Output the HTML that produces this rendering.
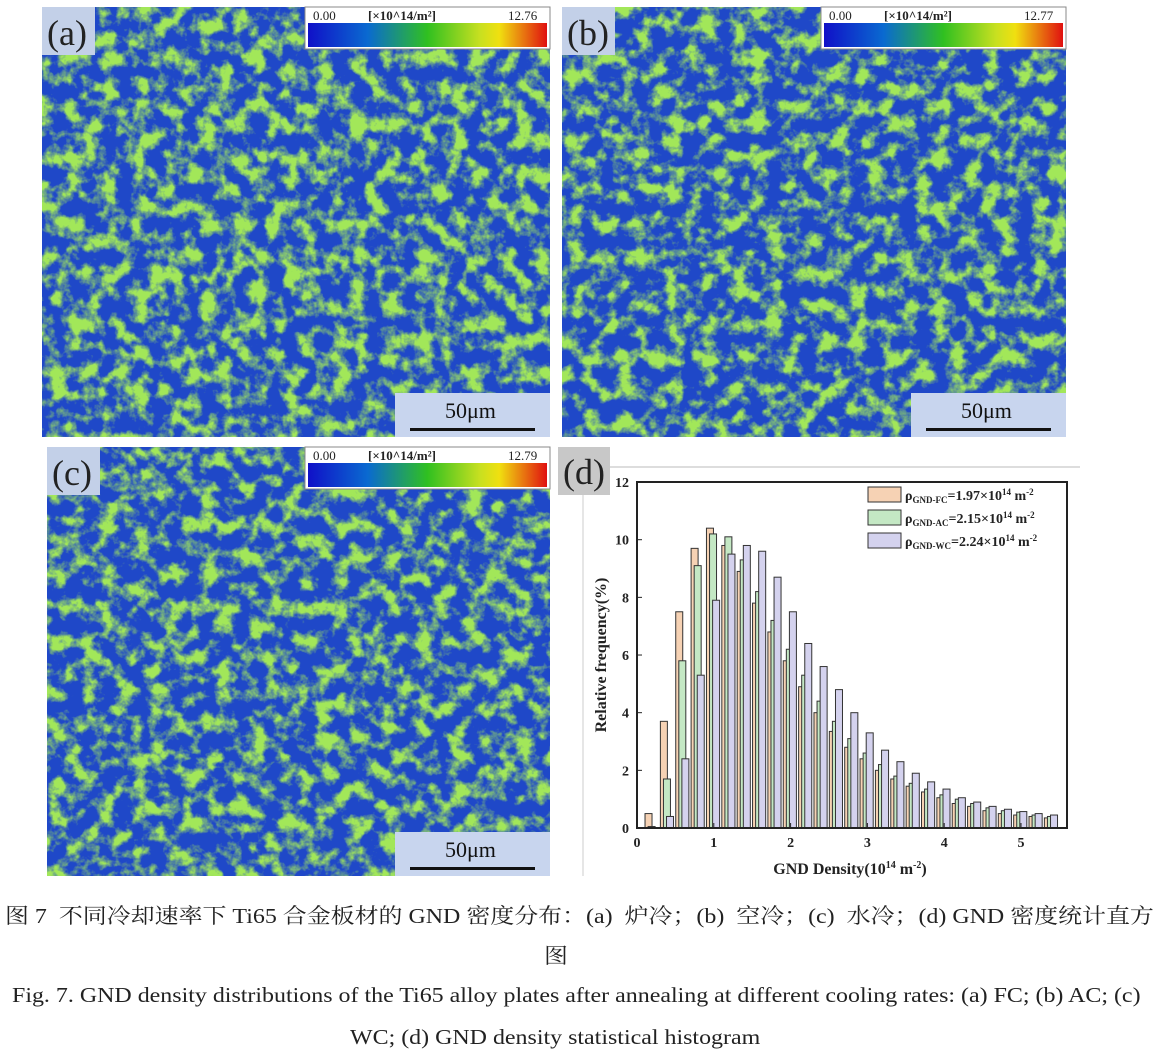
<!DOCTYPE html>
<html><head><meta charset="utf-8">
<style>
body{margin:0;background:#fff;width:1158px;height:1056px;position:relative;overflow:hidden;font-family:"Liberation Serif","Noto Serif CJK SC",serif;}
.cap{position:absolute;font-size:21px;color:#222;white-space:nowrap;transform:scaleX(1.14);transform-origin:0 0;}
</style></head><body>
<svg id="s" width="1158" height="880" style="position:absolute;left:0;top:0" xmlns="http://www.w3.org/2000/svg">
<defs>
<filter id="t1" x="0" y="0" width="100%" height="100%"><feTurbulence type="fractalNoise" baseFrequency="0.06" numOctaves="4" seed="3"/><feColorMatrix type="matrix" values="0 0 0 0 0.36  0 0 0 0 0.8  0 0 0 0 0.1  4 0 0 0 -1.7"/></filter>
<filter id="t2" x="0" y="0" width="100%" height="100%"><feTurbulence type="fractalNoise" baseFrequency="0.06" numOctaves="4" seed="11"/><feColorMatrix type="matrix" values="0 0 0 0 0.36  0 0 0 0 0.8  0 0 0 0 0.1  4 0 0 0 -1.75"/></filter>
<filter id="t3" x="0" y="0" width="100%" height="100%"><feTurbulence type="fractalNoise" baseFrequency="0.06" numOctaves="4" seed="27"/><feColorMatrix type="matrix" values="0 0 0 0 0.36  0 0 0 0 0.8  0 0 0 0 0.1  4 0 0 0 -1.75"/></filter>
<linearGradient id="cb"><stop offset="0" stop-color="#1010c8"/><stop offset="0.25" stop-color="#0a6ad0"/><stop offset="0.5" stop-color="#30c020"/><stop offset="0.72" stop-color="#c8e020"/><stop offset="0.8" stop-color="#f0e010"/><stop offset="1" stop-color="#e01010"/></linearGradient>
</defs>
<g id="maps"></g>
<g id="hist"></g>
</svg>
<div class="cap" style="left:5px;top:900px;">图 7&nbsp; 不同冷却速率下 Ti65 合金板材的 GND 密度分布：(a)&nbsp; 炉冷；(b)&nbsp; 空冷；(c)&nbsp; 水冷；(d) GND 密度统计直方</div>
<div class="cap" style="left:544px;top:940px;">图</div>
<div class="cap" style="left:12px;top:983px;">Fig. 7. GND density distributions of the Ti65 alloy plates after annealing at different cooling rates: (a) FC; (b) AC; (c)</div>
<div class="cap" style="left:350px;top:1025px;">WC; (d) GND density statistical histogram</div>
<script>
var NS="http://www.w3.org/2000/svg";
function el(p,n,a,txt){var e=document.createElementNS(NS,n);for(var k in a)e.setAttribute(k,a[k]);if(txt!==undefined)e.textContent=txt;p.appendChild(e);return e;}
var maps=document.getElementById('maps');
var M=[[42,7,508,430,'a','12.76','t1'],[562,7,504,430,'b','12.77','t2'],[47,447,503,429,'c','12.79','t3']];
M.forEach(function(m){
 var x=m[0],y=m[1],w=m[2],h=m[3];
 el(maps,'rect',{x:x,y:y,width:w,height:h,fill:'#1f48c8'});
 el(maps,'rect',{x:x,y:y,width:w,height:h,fill:'#fff',filter:'url(#'+m[6]+')'});
 el(maps,'rect',{x:x,y:y,width:53,height:48,fill:'#c3d0e8'});
 el(maps,'text',{x:x+5,y:y+38,'font-size':36,'font-family':'Liberation Serif',fill:'#222'},'('+m[4]+')');
 var cx=x+w-245;
 el(maps,'rect',{x:cx,y:y,width:245,height:42,fill:'#ffffff',stroke:'#888'});
 el(maps,'rect',{x:cx+3,y:y+16,width:239,height:24,fill:'url(#cb)'});
 el(maps,'text',{x:cx+8,y:y+13,'font-size':13,fill:'#222'},'0.00');
 el(maps,'text',{x:cx+63,y:y+13,'font-size':13,'font-weight':'bold',fill:'#222'},'[×10^14/m²]');
 el(maps,'text',{x:cx+203,y:y+13,'font-size':13,fill:'#222'},m[5]);
 var sx=x+w-155,sy=y+h-44;
 el(maps,'rect',{x:sx,y:sy,width:155,height:44,fill:'#c8d5ee'});
 el(maps,'text',{x:sx+50,y:sy+25,'font-size':22,fill:'#111'},'50μm');
 el(maps,'rect',{x:sx+15,y:sy+35,width:125,height:3,fill:'#111'});
});
var g=document.getElementById('hist');
el(g,'line',{x1:610,y1:467,x2:1080,y2:467,stroke:'#bbb'});
el(g,'line',{x1:583,y1:447,x2:583,y2:876,stroke:'#ccc'});
el(g,'rect',{x:558,y:447,width:52,height:48,fill:'#c8c8c8'});
el(g,'text',{x:563,y:484,'font-size':36,fill:'#222'},'(d)');
var L=637,R=1067,T=482,B=828,ux=76.8,uy=28.83;
function X(v){return L+v*ux}function Y(v){return B-v*uy}
var FC=[0.5,3.7,7.5,9.7,10.4,9.8,8.9,7.8,6.8,5.8,4.9,4.0,3.35,2.8,2.4,2.0,1.7,1.45,1.25,1.05,0.85,0.75,0.6,0.5,0.45,0.4,0.35];
var AC=[0.05,1.7,5.8,9.1,10.2,10.1,9.3,8.2,7.2,6.2,5.3,4.4,3.7,3.1,2.6,2.2,1.8,1.55,1.35,1.15,1.0,0.85,0.7,0.6,0.55,0.45,0.4];
var WC=[0,0.4,2.4,5.3,7.9,9.5,9.8,9.6,8.7,7.5,6.4,5.6,4.8,4.0,3.3,2.7,2.3,1.9,1.6,1.35,1.05,0.9,0.75,0.65,0.57,0.5,0.45];
var bw=7;
[[FC,-0.05,'#f6d2b4'],[AC,-0.01,'#c4e8c4'],[WC,0.03,'#d4d2ee']].forEach(function(s){
 s[0].forEach(function(v,i){if(v<=0)return;var c=0.2*(i+1)+s[1];
  el(g,'rect',{x:X(c)-bw/2,y:Y(v),width:bw,height:v*uy,fill:s[2],stroke:'#333','stroke-width':1});});
});
el(g,'rect',{x:L,y:T,width:R-L,height:B-T,fill:'none',stroke:'#222','stroke-width':2});
for(var i=0;i<=12;i+=2){el(g,'line',{x1:L,y1:Y(i),x2:L+5,y2:Y(i),stroke:'#222'});
 el(g,'text',{x:L-8,y:Y(i)+5,'font-size':14,'font-weight':'bold','text-anchor':'end',fill:'#222'},i);}
for(var i=0;i<=5;i++){el(g,'line',{x1:X(i),y1:B,x2:X(i),y2:B-5,stroke:'#222'});
 el(g,'text',{x:X(i),y:B+19,'font-size':14,'font-weight':'bold','text-anchor':'middle',fill:'#222'},i);}
el(g,'text',{x:850,y:874,'font-size':16,'font-weight':'bold','text-anchor':'middle',fill:'#222'}).innerHTML='GND Density(10<tspan dy="-6" font-size="10">14</tspan><tspan dy="6"> m</tspan><tspan dy="-6" font-size="10">-2</tspan><tspan dy="6">)</tspan>';
el(g,'text',{x:606,y:655,'font-size':16,'font-weight':'bold','text-anchor':'middle',fill:'#222',transform:'rotate(-90 606 655)'},'Relative frequency(%)');
var leg=[['#f6d2b4','FC','1.97'],['#c4e8c4','AC','2.15'],['#d4d2ee','WC','2.24']];
leg.forEach(function(l,i){var y=487+i*23;
 el(g,'rect',{x:868,y:y,width:33,height:15,fill:l[0],stroke:'#333'});
 el(g,'text',{x:905,y:y+13,'font-size':14,'font-weight':'bold',fill:'#222'}).innerHTML='ρ<tspan font-size="9" dy="3">GND-'+l[1]+'</tspan><tspan dy="-3">='+l[2]+'×10</tspan><tspan font-size="9" dy="-5">14</tspan><tspan dy="5"> m</tspan><tspan font-size="9" dy="-5">-2</tspan>';
});
</script>
</body></html>
